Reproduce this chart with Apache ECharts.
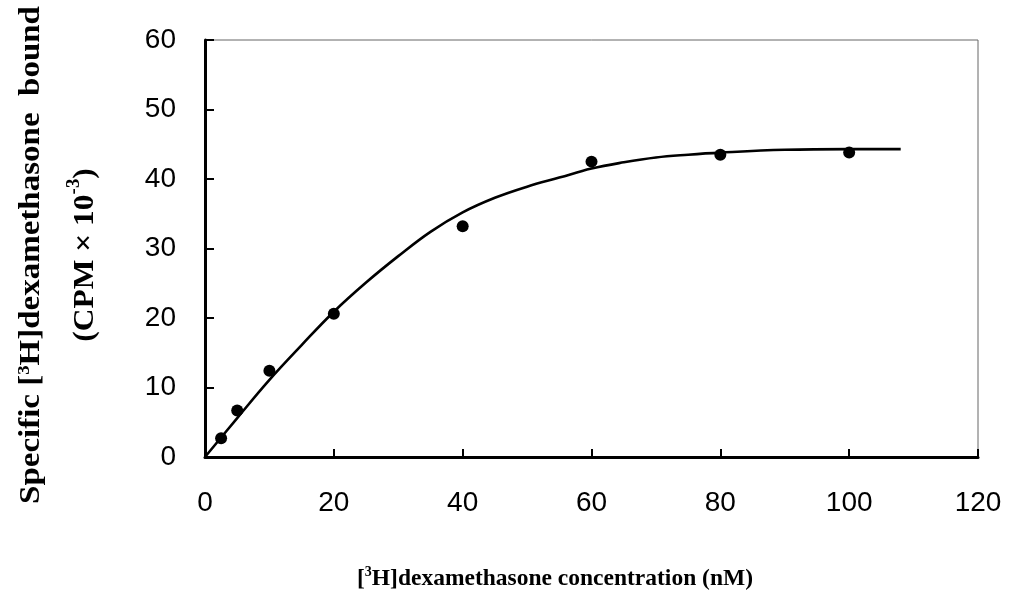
<!DOCTYPE html>
<html>
<head>
<meta charset="utf-8">
<script src="https://cdn.jsdelivr.net/npm/echarts@6/dist/echarts.min.js"></script>
<style>
  html, body { margin: 0; padding: 0; background: #fff; }
  #chart { width: 1013px; height: 598px; }
</style>
</head>
<body>
<div id="chart"></div>
<script>
// Measured binding points: [3H]dexamethasone (nM) vs specific bound (CPM x 10^-3)
var concentration = [2.5, 5, 10, 20, 40, 60, 80, 100];
var boundCpm = [2.7, 6.7, 12.4, 20.6, 33.2, 42.5, 43.5, 43.8];

// Fitted saturation curve
var fitX = [0, 5, 10, 15, 20, 25, 30, 35, 40, 45, 50, 55, 60, 65, 70, 75, 80, 90, 100, 108];
var fitY = [0, 5.6, 11.1, 16.1, 20.9, 25.1, 28.9, 32.4, 35.2, 37.3, 38.9, 40.2, 41.5, 42.4, 43.1, 43.5, 43.8, 44.2, 44.3, 44.3];

var xTicks = { min: 0, max: 120, step: 20 };
var yTicks = { min: 0, max: 60, step: 10 };

function pairs(xs, ys) {
  return xs.map(function (x, i) { return [x, ys[i]]; });
}

var serif = '"Liberation Serif", "Times New Roman", serif';
var sans = '"Liberation Sans", Arial, sans-serif';

var titleMain = { fontFamily: serif, fontWeight: 'bold', fill: '#000' };
function richStyle(base, extra) {
  var o = {};
  Object.keys(base).forEach(function (k) { o[k] = base[k]; });
  Object.keys(extra).forEach(function (k) { o[k] = extra[k]; });
  return o;
}

var chart = echarts.init(document.getElementById('chart'), null, { renderer: 'canvas' });

chart.setOption({
  backgroundColor: '#ffffff',
  animation: false,
  grid: {
    left: 205, right: 35, top: 40, bottom: 141,
    show: true, borderColor: '#666', borderWidth: 1, backgroundColor: 'transparent'
  },
  xAxis: {
    type: 'value',
    min: xTicks.min, max: xTicks.max, interval: xTicks.step,
    axisLine: { show: true, lineStyle: { color: '#000', width: 3 } },
    axisTick: { show: true, inside: true, length: 8, lineStyle: { color: '#000', width: 2 } },
    axisLabel: { color: '#000', fontFamily: sans, fontSize: 28, margin: 32 },
    splitLine: { show: false }
  },
  yAxis: {
    type: 'value',
    min: yTicks.min, max: yTicks.max, interval: yTicks.step,
    axisLine: { show: true, lineStyle: { color: '#000', width: 3 } },
    axisTick: { show: true, inside: true, length: 9, lineStyle: { color: '#000', width: 2 } },
    axisLabel: { color: '#000', fontFamily: sans, fontSize: 28, margin: 29 },
    splitLine: { show: false }
  },
  graphic: [
    {
      // x-axis title
      type: 'text',
      x: 555, y: 579,
      style: {
        text: '{t|[}{s|3}{t|H]dexamethasone concentration (nM)}',
        align: 'center', verticalAlign: 'middle',
        rich: {
          t: richStyle(titleMain, { fontSize: 23.5, lineHeight: 30 }),
          s: richStyle(titleMain, { fontSize: 14, lineHeight: 14, verticalAlign: 'top', padding: [1, 0, 0, 0] })
        }
      }
    },
    {
      // y-axis title, first line
      type: 'text',
      x: 31, y: 255,
      rotation: Math.PI / 2,
      scaleX: 1.1,
      style: {
        text: '{t|Specific [}{s|3}{t|H]dexamethasone  bound}',
        align: 'center', verticalAlign: 'middle',
        rich: {
          t: richStyle(titleMain, { fontSize: 30, lineHeight: 40 }),
          s: richStyle(titleMain, { fontSize: 17, lineHeight: 17, verticalAlign: 'top', padding: [5, 0, 0, 0] })
        }
      }
    },
    {
      // y-axis title, second line
      type: 'text',
      x: 85, y: 255,
      rotation: Math.PI / 2,
      scaleX: 1.05,
      style: {
        text: '{t|(CPM \u00d7 10}{s|-3}{t|)}',
        align: 'center', verticalAlign: 'middle',
        rich: {
          t: richStyle(titleMain, { fontSize: 30, lineHeight: 40 }),
          s: richStyle(titleMain, { fontSize: 18, lineHeight: 18, verticalAlign: 'top', padding: [0, 0, 0, 0] })
        }
      }
    }
  ],
  series: [
    {
      name: 'fit',
      type: 'line',
      data: pairs(fitX, fitY),
      smooth: 0.4,
      showSymbol: false,
      symbol: 'none',
      lineStyle: { color: '#000', width: 2.6 },
      z: 2
    },
    {
      name: 'measured',
      type: 'scatter',
      data: pairs(concentration, boundCpm),
      symbol: 'circle',
      symbolSize: 12,
      itemStyle: { color: '#000', opacity: 1 },
      z: 3
    }
  ]
});
</script>
</body>
</html>
